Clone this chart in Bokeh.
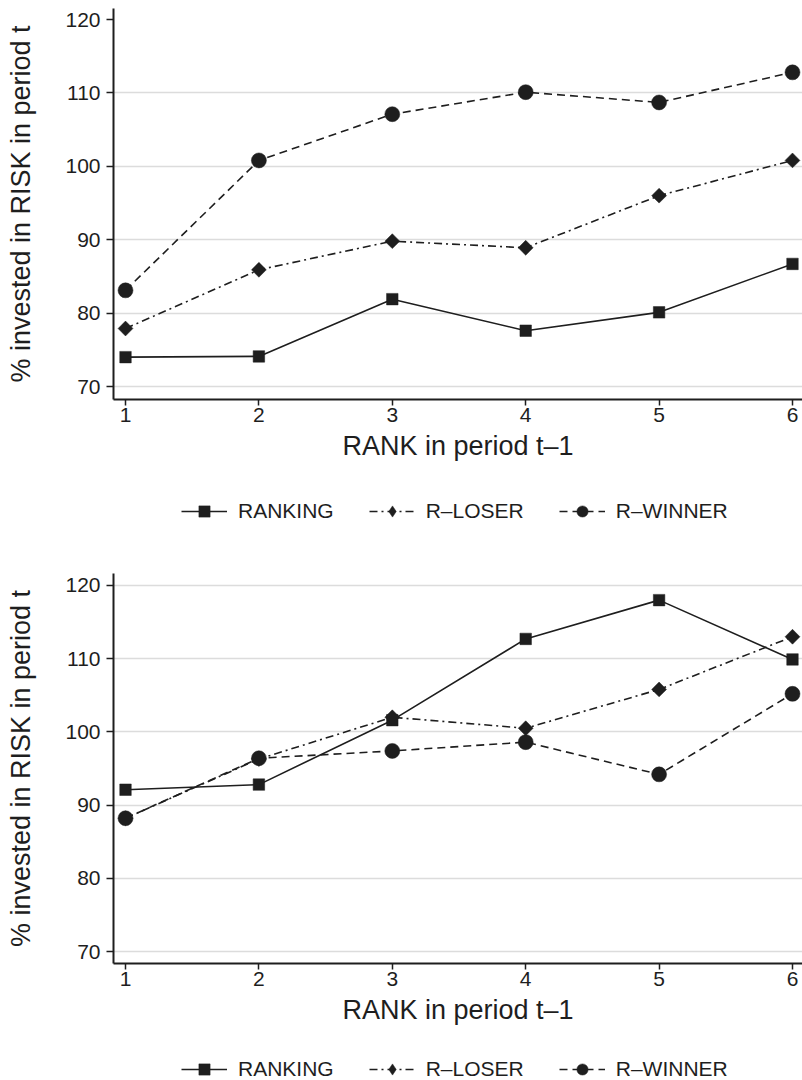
import numpy as np
from bokeh.plotting import figure
from bokeh.models import Range1d, FixedTicker, Legend, LegendItem
from bokeh.layouts import column
from bokeh.embed import file_html
from bokeh.resources import INLINE

# ---- data ----
rank = [1, 2, 3, 4, 5, 6]
x_ticks = [1, 2, 3, 4, 5, 6]
y_ticks = [70, 80, 90, 100, 110, 120]

top_ranking = [74.0, 74.1, 81.9, 77.6, 80.1, 86.7]
top_loser = [77.9, 85.9, 89.8, 88.9, 96.0, 100.8]
top_winner = [83.1, 100.8, 107.1, 110.1, 108.7, 112.8]

bot_ranking = [92.1, 92.8, 101.6, 112.7, 118.0, 109.9]
bot_loser = [88.2, 96.3, 102.0, 100.5, 105.8, 113.0]
bot_winner = [88.2, 96.4, 97.4, 98.6, 94.2, 105.2]

series_names = ["RANKING", "R\u2013LOSER", "R\u2013WINNER"]
x_label = "RANK in period t\u20131"
y_label = "% invested in RISK in period t"

FONT = "Liberation Sans"
INK = "#1e1e1e"
W = 802

STYLES = [
    dict(line_dash="solid", marker="square", size=11.5, angle=0.0, legend_marker="square"),
    dict(line_dash="8 4 2 4", marker="square", size=10.5, angle=np.pi / 4, legend_marker="diamond"),
    dict(line_dash="8 5", marker="circle", size=15, angle=0.0, legend_marker="circle"),
]


def add_series(p, series, for_legend=False):
    rends = []
    for vals, st in zip(series, STYLES):
        ln = p.line(rank, vals, line_color=INK, line_width=1.6, line_dash=st["line_dash"])
        marker = st["legend_marker"] if for_legend else st["marker"]
        angle = 0.0 if for_legend else st["angle"]
        sc = p.scatter(rank, vals, marker=marker, size=st["size"], angle=angle,
                       fill_color=INK, line_color=INK, line_width=0.5)
        rends.append((ln, sc))
    return rends


def make_panel(series, height, top_border, y_start, y_end, grid_ticks):
    p = figure(width=W, height=height, output_backend="svg",
               toolbar_location=None, title_location=None,
               x_range=Range1d(0.910, 6.075), y_range=Range1d(y_start, y_end),
               min_border_left=113, min_border_right=0,
               min_border_top=top_border, min_border_bottom=71)
    p.outline_line_color = None
    p.background_fill_color = "white"
    p.border_fill_color = "white"

    p.xgrid.visible = False
    p.ygrid.ticker = FixedTicker(ticks=grid_ticks)
    p.ygrid.grid_line_color = "#dcdcdc"
    p.ygrid.grid_line_width = 1.5

    for ax in (p.xaxis[0], p.yaxis[0]):
        ax.axis_line_color = INK
        ax.axis_line_width = 2
        ax.major_tick_line_color = INK
        ax.major_tick_line_width = 1.5
        ax.major_tick_in = 0
        ax.minor_tick_line_color = None
        ax.major_label_text_font = FONT
        ax.major_label_text_font_size = "21px"
        ax.major_label_text_color = INK
        ax.axis_label_text_font = FONT
        ax.axis_label_text_font_size = "27px"
        ax.axis_label_text_font_style = "normal"
        ax.axis_label_text_color = INK

    p.xaxis.ticker = FixedTicker(ticks=x_ticks)
    p.xaxis.axis_label = x_label
    p.xaxis.major_tick_out = 6
    p.xaxis.major_label_standoff = 2
    p.xaxis.axis_label_standoff = 6

    p.yaxis.ticker = FixedTicker(ticks=y_ticks)
    p.yaxis.axis_label = y_label
    p.yaxis.major_tick_out = 7
    p.yaxis.major_label_standoff = 6
    p.yaxis.axis_label_standoff = 26
    p.yaxis.major_label_orientation = "horizontal"

    add_series(p, series)
    return p


def make_legend(series, height, bottom_offset):
    # the legend row; its frame is aligned with the panels' frames by the column
    f = figure(width=W, height=height, output_backend="svg",
               toolbar_location=None, title_location=None,
               x_axis_type=None, y_axis_type=None,
               x_range=Range1d(100, 101), y_range=Range1d(0, 1),
               min_border=0)
    f.outline_line_color = None
    f.background_fill_color = "white"
    f.border_fill_color = "white"
    rends = add_series(f, series, for_legend=True)
    legend = Legend(items=[LegendItem(label=name, renderers=list(r))
                           for name, r in zip(series_names, rends)],
                    orientation="horizontal", location=(68, bottom_offset))
    legend.padding = 0
    legend.margin = 0
    legend.spacing = 35
    legend.glyph_width = 46
    legend.glyph_height = 28
    legend.label_height = 20
    legend.label_standoff = 11
    legend.label_text_font = FONT
    legend.label_text_font_size = "21px"
    legend.label_text_color = INK
    legend.border_line_color = None
    legend.background_fill_alpha = 0
    f.add_layout(legend)
    return f


top_series = [top_ranking, top_loser, top_winner]
bot_series = [bot_ranking, bot_loser, bot_winner]

p1 = make_panel(top_series, height=470, top_border=8,
                y_start=68.229, y_end=121.499, grid_ticks=[70, 80, 90, 100, 110])
leg1 = make_legend(top_series, height=90, bottom_offset=35)
p2 = make_panel(bot_series, height=474, top_border=13,
                y_start=68.361, y_end=121.639, grid_ticks=[70, 80, 90, 100, 110, 120])
leg2 = make_legend(bot_series, height=46, bottom_offset=-3)

layout = column(p1, leg1, p2, leg2, spacing=0)
open("out.html", "w").write(file_html(layout, INLINE))
